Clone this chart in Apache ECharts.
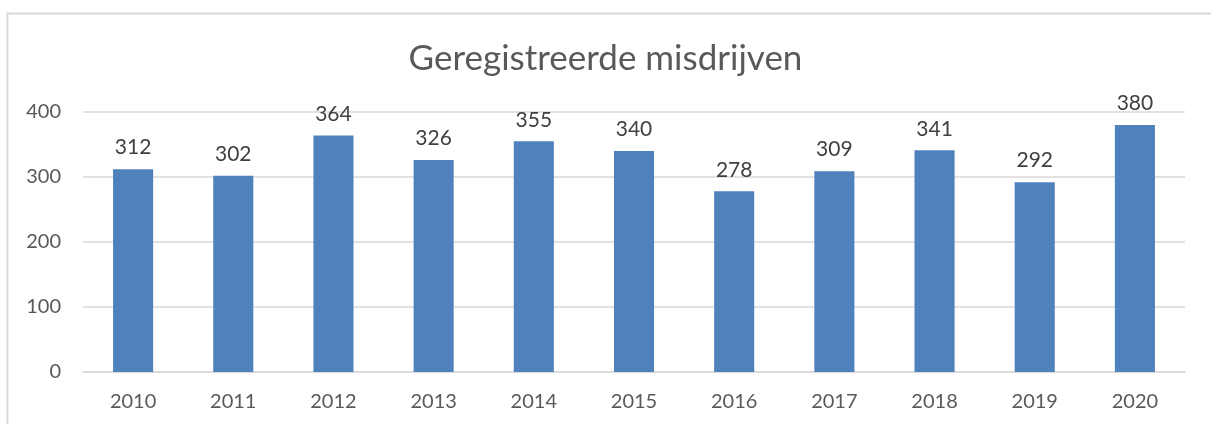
<!DOCTYPE html>
<html>
<head>
<meta charset="utf-8">
<script src="https://cdn.jsdelivr.net/npm/echarts@6/dist/echarts.min.js"></script>
<style>
  html, body { margin: 0; padding: 0; background: #fff; }
  #chart { width: 1211px; height: 424px; }
</style>
</head>
<body>
<div id="chart"></div>
<script>
const years = ['2010', '2011', '2012', '2013', '2014', '2015', '2016', '2017', '2018', '2019', '2020']
const misdrijven = [312, 302, 364, 326, 355, 340, 278, 309, 341, 292, 380]
const yTicks = { min: 0, max: 400, interval: 100 }

const chart = echarts.init(document.getElementById('chart'))
const font = 'Lato, "Open Sans", sans-serif'

chart.setOption({
  animation: false,
  textStyle: { fontFamily: font },
  title: {
    text: 'Geregistreerde misdrijven',
    left: 'center',
    top: 36,
    textStyle: { fontSize: 35, fontWeight: 'normal', color: '#595959', fontFamily: font }
  },
  graphic: [{
    type: 'rect',
    shape: { x: 7.5, y: 13.5, width: 1240, height: 440 },
    style: { fill: 'none', stroke: '#d9d9d9', lineWidth: 2 },
    silent: true
  }],
  grid: { left: 83, right: 26, top: 112, bottom: 52 },
  xAxis: {
    type: 'category',
    data: years,
    axisTick: { show: false },
    axisLine: { lineStyle: { color: '#d9d9d9', width: 1.5 } },
    axisLabel: { color: '#595959', fontSize: 20, margin: 20 }
  },
  yAxis: {
    type: 'value',
    min: yTicks.min,
    max: yTicks.max,
    interval: yTicks.interval,
    axisLine: { show: false },
    axisTick: { show: false },
    splitLine: { lineStyle: { color: '#d9d9d9', width: 1.5 } },
    axisLabel: { color: '#595959', fontSize: 20, margin: 22 }
  },
  series: [{
    type: 'bar',
    data: misdrijven,
    barWidth: '40%',
    itemStyle: { color: '#4f81bd' },
    label: {
      show: true,
      position: 'top',
      distance: 11,
      color: '#404040',
      fontSize: 21
    }
  }]
})
</script>
</body>
</html>
